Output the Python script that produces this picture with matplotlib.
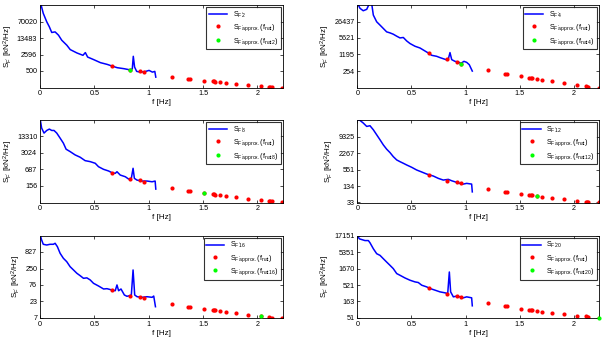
import matplotlib
matplotlib.use("Agg")
import matplotlib.pyplot as plt
from matplotlib.ticker import FixedLocator, FixedFormatter, NullLocator

plt.rcParams['font.family'] = ['Liberation Sans', 'DejaVu Sans']
plt.rcParams['mathtext.fontset'] = 'custom'
plt.rcParams['mathtext.rm'] = 'Liberation Sans'
plt.rcParams['mathtext.it'] = 'Liberation Sans'
plt.rcParams['mathtext.default'] = 'regular'

# natural frequencies (Hz)
f_nat = [0.66, 0.83, 0.92, 0.96, 1.21, 1.36, 1.38, 1.51, 1.59, 1.60, 1.61,
         1.66, 1.71, 1.80, 1.91, 2.03, 2.11, 2.12, 2.13, 2.23]

modes = [2, 4, 8, 12, 16, 20]

# measured spectra
f1 = [0.0, 0.01, 0.03, 0.062, 0.086, 0.108, 0.139, 0.17, 0.20, 0.247, 0.278, 0.34, 0.395, 0.417, 0.438,
      0.494, 0.556, 0.617, 0.664, 0.71, 0.772, 0.82, 0.833, 0.849, 0.858, 0.87, 0.889, 0.926, 0.972,
      1.003, 1.034, 1.056, 1.065]
s1 = [600000, 363000, 158000, 68000, 41100, 23400, 24800, 17900, 10800, 6540, 4240, 3020, 2395, 3140, 2015,
      1555, 1150, 970, 817, 696, 630, 570, 531, 630, 2166, 740, 480, 447, 480, 531, 447, 480, 271]

f2 = [0, 0.025, 0.055, 0.087, 0.111, 0.133, 0.148, 0.179, 0.21, 0.24, 0.271, 0.302, 0.332, 0.364, 0.394,
      0.425, 0.456, 0.487, 0.533, 0.579, 0.625, 0.656, 0.687, 0.733, 0.764, 0.819, 0.84, 0.856, 0.872,
      0.902, 0.933, 0.957, 0.985, 1.01, 1.034, 1.062]
s2 = [150000, 91000, 72500, 82800, 140000, 140000, 48300, 25700, 18800, 13800, 10000, 9080, 8040, 6660, 5670,
      5900, 4270, 3340, 2590, 2200, 1660, 1376, 1108, 1008, 892, 738, 760, 1430, 738, 629, 588, 521, 629,
      572, 460, 252]

f3 = [0, 0.015, 0.037, 0.062, 0.086, 0.108, 0.129, 0.154, 0.185, 0.215, 0.24, 0.277, 0.323, 0.369, 0.415,
      0.462, 0.508, 0.538, 0.584, 0.631, 0.662, 0.692, 0.708, 0.738, 0.785, 0.815, 0.84, 0.856, 0.868,
      0.892, 0.939, 0.985, 1.031, 1.059, 1.065]
s3 = [70000, 28400, 18100, 22900, 25900, 22900, 22900, 18100, 11500, 7330, 4250, 3430, 2545, 2070, 1520,
      1390, 1200, 883, 698, 600, 514, 486, 562, 417, 358, 291, 310, 765, 310, 265, 243, 243, 228, 243, 118]

f4 = [0, 0.025, 0.055, 0.087, 0.117, 0.148, 0.179, 0.21, 0.24, 0.271, 0.302, 0.332, 0.364, 0.394, 0.425,
      0.456, 0.502, 0.548, 0.595, 0.641, 0.671, 0.702, 0.748, 0.794, 0.84, 0.872, 0.918, 0.948, 0.979,
      1.01, 1.056, 1.062]
s4 = [40000, 37000, 29600, 22100, 23500, 16600, 10800, 7020, 4560, 3150, 2350, 1665, 1250, 1080, 940,
      813, 667, 529, 445, 374, 343, 315, 258, 223, 237, 210, 183, 168, 158, 168, 158, 81]

f5 = [0, 0.015, 0.03, 0.062, 0.092, 0.123, 0.139, 0.16, 0.185, 0.215, 0.246, 0.277, 0.308, 0.339, 0.369,
      0.4, 0.431, 0.462, 0.492, 0.538, 0.585, 0.616, 0.662, 0.692, 0.708, 0.723, 0.745, 0.776, 0.8, 0.825,
      0.84, 0.856, 0.871, 0.893, 0.939, 0.985, 1.031, 1.046, 1.062]
s5 = [3000, 1975, 1445, 1373, 1445, 1445, 1555, 1215, 753, 524, 410, 285, 225, 177, 149,
      123, 127, 109, 85.6, 70.5, 56.7, 58, 52.7, 50, 76, 50, 56.7, 36.7, 33.4, 35,
      36.7, 225, 36.7, 32.4, 31, 32.4, 31, 34, 15.7]

f6 = [0, 0.018, 0.04, 0.071, 0.102, 0.117, 0.148, 0.179, 0.21, 0.24, 0.271, 0.302, 0.332, 0.364, 0.394,
      0.44, 0.487, 0.533, 0.563, 0.595, 0.641, 0.671, 0.718, 0.764, 0.81, 0.835, 0.85, 0.862, 0.887,
      0.918, 0.948, 0.979, 1.01, 1.056, 1.062]
s6 = [18000, 13600, 12900, 12000, 12000, 10300, 6740, 4750, 4215, 3340, 2635, 2090, 1660, 1168, 1037,
      858, 730, 649, 622, 514, 456, 408, 362, 321, 300, 287, 1306, 321, 226, 238, 226, 211, 226, 211, 120]

# approximated spectra at natural frequencies
a1 = [830, 560, 495, 450, 282, 222, 218, 189, 180, 177, 174, 159, 154, 139, 126, 110, 104, 102, 100, 96]
a2 = [1400, 760, 588, 506, 276, 199, 195, 153, 132, 130, 128, 115, 108, 95, 81, 70, 60, 59, 58, 54]
a3 = [514, 291, 265, 228, 129, 102, 100, 82, 74, 73, 72, 67, 62.5, 55.6, 49, 42.4, 40, 39.8, 39.5, 36]
a4 = [343, 210, 183, 168, 103, 82, 80, 66.7, 62, 61, 60, 56, 52.8, 48.4, 42.3, 37.5, 35.5, 35, 34.5, 32.8]
a5 = [52.7, 35, 31.7, 29.5, 19.1, 15.5, 15.3, 13, 12.2, 12.1, 12.0, 11.2, 10.7, 9.7, 8.8, 8.0, 7.3, 7.1, 7.0, 6.95]
a6 = [437, 279, 238, 221, 145, 119, 117, 97.5, 90, 89, 88, 83, 79, 72, 66, 59.6, 56.5, 55.8, 55, 50.9]

# y axis ticks / limits
yt1 = [500, 2596, 13483, 70020]
yt2 = [254, 1195, 5621, 26437]
yt3 = [156, 687, 3024, 13310]
yt4 = [33, 134, 551, 2267, 9325]
yt5 = [7, 23, 76, 250, 827]
yt6 = [51, 163, 521, 1670, 5351, 17151]
yl1 = (96.28, 363620)
yl2 = (54.0, 124360)
yl3 = (35.4, 58580)
yl4 = (32.6, 38354)
yl5 = (6.93, 2733)
yl6 = (50.8, 17151)

xticks = [0, 0.5, 1, 1.5, 2]
xtlabels = ['0', '0.5', '1', '1.5', '2']

W, H = 602, 340
fig = plt.figure(figsize=(W / 100, H / 100), dpi=100)

cols = [(40, 243), (357.3, 242)]
rows = [(5, 82.5), (120, 82.5), (235.5, 82.5)]

panels = [
    (f1, s1, a1, yt1, yl1),
    (f2, s2, a2, yt2, yl2),
    (f3, s3, a3, yt3, yl3),
    (f4, s4, a4, yt4, yl4),
    (f5, s5, a5, yt5, yl5),
    (f6, s6, a6, yt6, yl6),
]

for i, (f, s, a, yt, yl) in enumerate(panels):
    r, c = divmod(i, 2)
    x0, w = cols[c]
    y0, h = rows[r]
    ax = fig.add_axes([x0 / W, 1 - (y0 + h) / H, w / W, h / H])
    m = modes[i]
    ax.plot(f, s, color='#0000ff', lw=1.1, label=r"$S_{F'%d}$" % m)
    ax.plot(f_nat, a, ls='none', marker='o', ms=3.0, mfc='#ff0000', mew=0,
            label=r"$S_{F'approx.}(f_{nat})$")
    ax.plot([f_nat[m - 1]], [a[m - 1]], ls='none', marker='o', ms=3.0, mfc='#00ff00', mew=0,
            label=r"$S_{F'approx.}(f_{nat%d})$" % m, clip_on=False, zorder=5)
    ax.set_yscale('log')
    ax.set_xlim(0, 2.235)
    ax.set_ylim(*yl)
    ax.yaxis.set_major_locator(FixedLocator(yt))
    ax.yaxis.set_major_formatter(FixedFormatter([str(v) for v in yt]))
    ax.yaxis.set_minor_locator(NullLocator())
    ax.set_xticks(xticks)
    ax.set_xticklabels(xtlabels)
    ax.tick_params(direction='in', length=2.5, width=0.5, labelsize=5.2, top=True, right=True, pad=2)
    for sp in ax.spines.values():
        sp.set_linewidth(0.6)
    ax.set_xlabel('f [Hz]', fontsize=5.8, labelpad=1.5)
    ax.set_ylabel(r"$S_{F'}$ [kN$^2$/Hz]", fontsize=5.8, labelpad=1.5)
    leg = ax.legend(loc='upper right', fontsize=5.2, frameon=True, fancybox=False,
                    edgecolor='black', borderaxespad=0.3, handlelength=2.5, handletextpad=0.8,
                    borderpad=0.35, labelspacing=0.35, numpoints=1)
    leg.get_frame().set_linewidth(0.8)

fig.savefig('out.png', dpi=100)
